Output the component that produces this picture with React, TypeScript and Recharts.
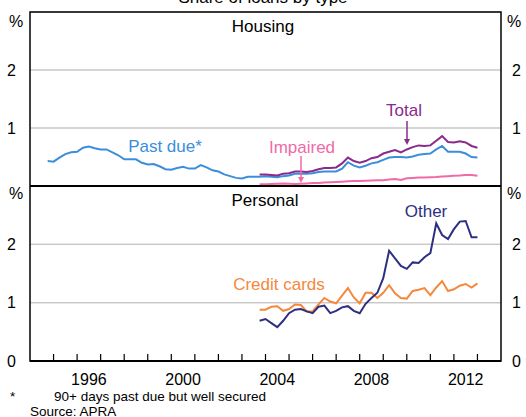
import { LineChart, Line, XAxis, YAxis, CartesianGrid, ReferenceLine } from "recharts";

const FONT = "Arial, 'Liberation Sans', sans-serif";

// quarterly data, plotted at quarter end
const HOUSING_START = { year: 1994, q: 3 };
const RECENT_START = { year: 2003, q: 3 };

const PAST_DUE = [
  0.43, 0.42, 0.49, 0.55, 0.58, 0.59, 0.66, 0.68, 0.65, 0.63,
  0.63, 0.58, 0.53, 0.46, 0.46, 0.46, 0.40, 0.37, 0.38, 0.34,
  0.29, 0.28, 0.31, 0.33, 0.30, 0.30, 0.36, 0.32, 0.27, 0.25,
  0.20, 0.17, 0.14, 0.13, 0.16, 0.16, 0.16, 0.17, 0.16, 0.15,
  0.17, 0.18, 0.21, 0.21, 0.21, 0.22, 0.24, 0.25, 0.25, 0.25,
  0.30, 0.41, 0.35, 0.32, 0.35, 0.39, 0.41, 0.45, 0.49, 0.50,
  0.50, 0.49, 0.51, 0.54, 0.55, 0.56, 0.63, 0.69, 0.59, 0.59,
  0.59, 0.56, 0.50, 0.49,
];
const TOTAL = [
  0.20, 0.20, 0.19, 0.18, 0.21, 0.22, 0.25, 0.25, 0.24, 0.26,
  0.29, 0.31, 0.31, 0.32, 0.39, 0.49, 0.43, 0.40, 0.43, 0.48,
  0.50, 0.56, 0.59, 0.62, 0.58, 0.63, 0.67, 0.70, 0.69, 0.70,
  0.78, 0.86, 0.76, 0.75, 0.77, 0.75, 0.69, 0.66,
];
const IMPAIRED = [
  0.03, 0.03, 0.035, 0.04, 0.045, 0.04, 0.035, 0.04, 0.045, 0.05,
  0.05, 0.06, 0.065, 0.07, 0.075, 0.08, 0.085, 0.085, 0.09, 0.095,
  0.10, 0.10, 0.11, 0.12, 0.105, 0.135, 0.14, 0.145, 0.145, 0.15,
  0.155, 0.165, 0.17, 0.175, 0.18, 0.19, 0.19, 0.175,
];
const CREDIT_CARDS = [
  0.88, 0.88, 0.93, 0.94, 0.86, 0.89, 0.97, 0.96, 0.85, 0.85,
  0.97, 1.08, 1.02, 0.99, 1.12, 1.25, 1.09, 0.99, 1.17, 1.17,
  1.08, 1.17, 1.30, 1.16, 1.08, 1.07, 1.20, 1.22, 1.25, 1.13,
  1.26, 1.37, 1.20, 1.23, 1.29, 1.32, 1.26, 1.33,
];
const OTHER = [
  0.69, 0.72, 0.65, 0.58, 0.69, 0.82, 0.88, 0.89, 0.85, 0.82,
  0.93, 0.95, 0.82, 0.86, 0.92, 0.94, 0.86, 0.82, 0.98, 1.08,
  1.17, 1.42, 1.89, 1.76, 1.63, 1.58, 1.69, 1.68, 1.78, 1.85,
  2.36, 2.16, 2.09, 2.26, 2.39, 2.40, 2.12, 2.12,
];

const YEAR_TICKS = [
  1995, 1996, 1997, 1998, 1999, 2000, 2001, 2002, 2003, 2004,
  2005, 2006, 2007, 2008, 2009, 2010, 2011, 2012, 2013,
];
const LABEL_YEARS = [1996, 2000, 2004, 2008, 2012];
const X_DOMAIN = [1994, 2014];
const GRID_VALUES = [1, 2];

const C_PAST = "#3b8edb";
const C_TOTAL = "#8a2b8c";
const C_IMP = "#f06aa8";
const C_OTHER = "#2d2f82";
const C_CARDS = "#f5883c";
const GRID = "#c8c8c8";

const W = 526;
const LEFT_W = 30;
const RIGHT_W = 25;
const PLOT_W = W - LEFT_W - RIGHT_W;
const HALF_YEAR = PLOT_W / (X_DOMAIN[1] - X_DOMAIN[0]) / 2;

function quarterDate(start: { year: number; q: number }, i: number) {
  const q = start.q - 1 + i;
  return start.year + Math.floor(q / 4) + ((q % 4) + 1) / 4;
}

function toRows(start: { year: number; q: number }, values: number[]) {
  return values.map((v, i) => ({ x: quarterDate(start, i), v }));
}

const pastDueRows = toRows(HOUSING_START, PAST_DUE);
const totalRows = toRows(RECENT_START, TOTAL);
const impairedRows = toRows(RECENT_START, IMPAIRED);
const cardsRows = toRows(RECENT_START, CREDIT_CARDS);
const otherRows = toRows(RECENT_START, OTHER);

function YearTick({ x, y, payload }: any) {
  const yr = payload.value;
  return (
    <g>
      <path d={`M${x},${y} V${y - 7}`} stroke="#000" strokeWidth={1.2} fill="none" />
      {LABEL_YEARS.includes(yr) && (
        <text
          x={x + HALF_YEAR}
          y={y + 24}
          textAnchor="middle"
          fontSize={16}
          fontFamily={FONT}
          fill="#000"
        >
          {yr}
        </text>
      )}
    </g>
  );
}

const tickStyle = { fontSize: 16, fill: "#000", fontFamily: FONT };

function Arrow({ x, y1, y2, color }: { x: number; y1: number; y2: number; color: string }) {
  return (
    <g>
      <line x1={x} x2={x} y1={y1} y2={y2 - 5} stroke={color} strokeWidth={1.5} />
      <path d={`M${x - 3},${y2 - 6} L${x + 3},${y2 - 6} L${x},${y2} Z`} fill={color} />
    </g>
  );
}

export default function App() {
  return (
    <div style={{ position: "absolute", left: 0, top: 0, width: W, height: 417, overflow: "hidden", background: "#fff" }}>
      <div style={{ position: "absolute", left: 0, top: 11 }}>
        <LineChart width={W} height={177} margin={{ top: 1, right: 0, bottom: 2, left: 0 }}>
          <XAxis type="number" dataKey="x" domain={X_DOMAIN} height={0} tick={false} tickLine={false} axisLine={false} />
          <YAxis
            domain={[0, 3]}
            ticks={GRID_VALUES}
            width={LEFT_W}
            tickLine={false}
            axisLine={false}
            tickMargin={8}
            tick={tickStyle}
          />
          <YAxis
            yAxisId="r"
            orientation="right"
            domain={[0, 3]}
            ticks={GRID_VALUES}
            width={RIGHT_W}
            tickLine={false}
            axisLine={false}
            tickMargin={5}
            tick={tickStyle}
          />
          <CartesianGrid vertical={false} stroke={GRID} strokeWidth={1.2} />
          {GRID_VALUES.map((g) => (
            <ReferenceLine key={g} y={g} stroke={GRID} strokeWidth={1.2} />
          ))}
          <Line data={pastDueRows} dataKey="v" stroke={C_PAST} strokeWidth={2} dot={false} isAnimationActive={false} />
          <Line data={impairedRows} dataKey="v" stroke={C_IMP} strokeWidth={2} dot={false} isAnimationActive={false} />
          <Line data={totalRows} dataKey="v" stroke={C_TOTAL} strokeWidth={2} dot={false} isAnimationActive={false} />
          <Line yAxisId="r" data={totalRows} dataKey="v" stroke="none" dot={false} isAnimationActive={false} />
        </LineChart>
      </div>

      <div style={{ position: "absolute", left: 0, top: 186 }}>
        <LineChart width={W} height={205} margin={{ top: 0, right: 0, bottom: 0, left: 0 }}>
          <XAxis
            type="number"
            dataKey="x"
            domain={X_DOMAIN}
            ticks={YEAR_TICKS}
            interval={0}
            height={30}
            tickLine={false}
            tickSize={0}
            tickMargin={0}
            tick={<YearTick />}
            axisLine={false}
          />
          <YAxis
            domain={[0, 3]}
            ticks={[0, 1, 2]}
            width={LEFT_W}
            tickLine={false}
            axisLine={false}
            tickMargin={8}
            tick={tickStyle}
          />
          <YAxis
            yAxisId="r"
            orientation="right"
            domain={[0, 3]}
            ticks={[0, 1, 2]}
            width={RIGHT_W}
            tickLine={false}
            axisLine={false}
            tickMargin={5}
            tick={tickStyle}
          />
          <CartesianGrid vertical={false} stroke={GRID} strokeWidth={1.2} />
          {GRID_VALUES.map((g) => (
            <ReferenceLine key={g} y={g} stroke={GRID} strokeWidth={1.2} />
          ))}
          <Line data={cardsRows} dataKey="v" stroke={C_CARDS} strokeWidth={2} dot={false} isAnimationActive={false} />
          <Line data={otherRows} dataKey="v" stroke={C_OTHER} strokeWidth={2} dot={false} isAnimationActive={false} />
          <Line yAxisId="r" data={otherRows} dataKey="v" stroke="none" dot={false} isAnimationActive={false} />
        </LineChart>
      </div>

      <svg
        width={W}
        height={417}
        style={{ position: "absolute", left: 0, top: 0, pointerEvents: "none" }}
        fontFamily={FONT}
      >
        {/* panel frames */}
        <rect x={LEFT_W} y={12} width={PLOT_W} height={349} fill="none" stroke="#000" strokeWidth={1.5} />
        <line x1={LEFT_W} x2={LEFT_W + PLOT_W} y1={186} y2={186} stroke="#000" strokeWidth={2} />
        <line x1={LEFT_W} x2={LEFT_W + PLOT_W} y1={361} y2={361} stroke="#000" strokeWidth={2} />

        <text x={263} y={3} textAnchor="middle" fontSize={17}>Share of loans by type</text>
        <text x={263} y={32} textAnchor="middle" fontSize={17}>Housing</text>
        <text x={265} y={206} textAnchor="middle" fontSize={17}>Personal</text>

        <text x={16} y={27} textAnchor="middle" fontSize={16}>%</text>
        <text x={514} y={27} textAnchor="middle" fontSize={16}>%</text>
        <text x={16} y={199} textAnchor="middle" fontSize={16}>%</text>
        <text x={514} y={199} textAnchor="middle" fontSize={16}>%</text>

        <text x={165} y={152} textAnchor="middle" fontSize={17} fill={C_PAST}>Past due*</text>
        <text x={302} y={152.5} textAnchor="middle" fontSize={17} fill={C_IMP}>Impaired</text>
        <Arrow x={301} y1={156} y2={183} color={C_IMP} />
        <text x={404} y={116} textAnchor="middle" fontSize={17} fill={C_TOTAL}>Total</text>
        <Arrow x={407} y1={121} y2={145} color={C_TOTAL} />
        <text x={426} y={216.5} textAnchor="middle" fontSize={17} fill={C_OTHER}>Other</text>
        <text x={279} y={290} textAnchor="middle" fontSize={17} fill={C_CARDS}>Credit cards</text>

        <text x={10} y={400.5} fontSize={13.5}>*</text>
        <text x={54} y={400.5} fontSize={13.5}>90+ days past due but well secured</text>
        <text x={30} y={415.5} fontSize={13.5}>Source: APRA</text>
      </svg>
    </div>
  );
}
